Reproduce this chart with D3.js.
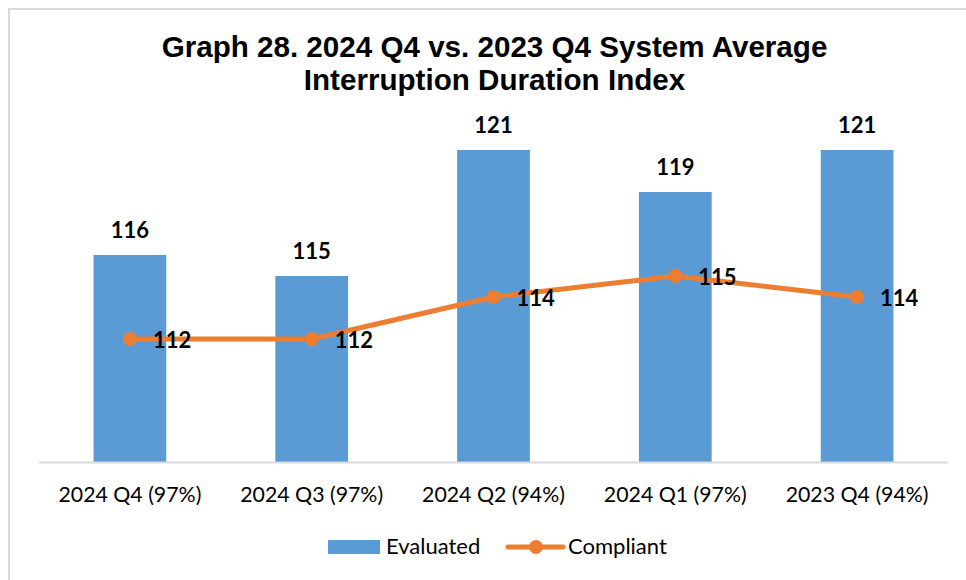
<!DOCTYPE html>
<html>
<head>
<meta charset="utf-8">
<script src="https://cdn.jsdelivr.net/npm/d3@7"></script>
<style>
  html, body { margin: 0; padding: 0; background: #fff; }
  svg { display: block; }
</style>
</head>
<body>
<svg id="chart" width="966" height="580"></svg>
<script>
const categories = ["2024 Q4 (97%)", "2024 Q3 (97%)", "2024 Q2 (94%)", "2024 Q1 (97%)", "2023 Q4 (94%)"];
const evaluated = [116, 115, 121, 119, 121];
const compliant = [112, 112, 114, 115, 114];
const titleLines = ["Graph 28. 2024 Q4 vs. 2023 Q4 System Average", "Interruption Duration Index"];
const seriesNames = ["Evaluated", "Compliant"];

const W = 966, H = 580;
const svg = d3.select("#chart");
const barColor = "#5B9BD5", lineColor = "#ED7D31";
const labelFont = "Lato, 'Open Sans', sans-serif";

// frame
svg.append("rect").attr("x", 9).attr("y", 9).attr("width", W).attr("height", H)
  .attr("fill", "#fff").attr("stroke", "#d9d9d9").attr("stroke-width", 2);

const plotLeft = 39, plotRight = 948, plotBottom = 462;

const x = d3.scaleBand().domain(categories).range([plotLeft, plotRight])
  .paddingInner(0.6).paddingOuter(0.3);
const y = d3.scaleLinear().domain([106, 122]).range([465, 129]);

// title
svg.append("g").selectAll("text").data(titleLines).join("text")
  .attr("x", (plotLeft + plotRight) / 2 + 1)
  .attr("y", (d, i) => 57 + i * 33)
  .attr("text-anchor", "middle")
  .attr("font-family", "'Liberation Sans', Arial, sans-serif")
  .attr("font-weight", "bold")
  .attr("font-size", 29.6)
  .attr("fill", "#000")
  .text(d => d);

// bars
svg.append("g").selectAll("rect").data(evaluated).join("rect")
  .attr("x", (d, i) => x(categories[i]))
  .attr("y", d => y(d))
  .attr("width", x.bandwidth())
  .attr("height", d => plotBottom - y(d))
  .attr("fill", barColor);

// axis
const xAxis = svg.append("g").attr("transform", `translate(0,${plotBottom + 0.5})`)
  .call(d3.axisBottom(x).tickSize(0).tickPadding(39).tickSizeOuter(0));
xAxis.select(".domain").attr("stroke", "#d9d9d9").attr("stroke-width", 2)
  .attr("d", `M${plotLeft},0H${plotRight}`);
xAxis.selectAll("text")
  .attr("font-family", labelFont).attr("font-size", 21.3).attr("fill", "#000")
  .attr("dy", 0);

// bar labels
svg.append("g").selectAll("text").data(evaluated).join("text")
  .attr("x", (d, i) => x(categories[i]) + x.bandwidth() / 2)
  .attr("y", d => y(d) - 17)
  .attr("text-anchor", "middle")
  .attr("font-family", labelFont).attr("font-weight", "bold").attr("font-size", 22)
  .attr("fill", "#000")
  .text(d => d);

// line
const cx = (d, i) => x(categories[i]) + x.bandwidth() / 2;
const line = d3.line().x((d, i) => cx(d, i)).y(d => y(d));
svg.append("path").datum(compliant)
  .attr("d", line).attr("fill", "none")
  .attr("stroke", lineColor).attr("stroke-width", 5).attr("stroke-linejoin", "round");
svg.append("g").selectAll("circle").data(compliant).join("circle")
  .attr("cx", cx).attr("cy", d => y(d)).attr("r", 7).attr("fill", lineColor);
svg.append("g").selectAll("text").data(compliant).join("text")
  .attr("x", (d, i) => cx(d, i) + 23)
  .attr("y", d => y(d) + 9)
  .attr("font-family", labelFont).attr("font-weight", "bold").attr("font-size", 22)
  .attr("fill", "#000")
  .text(d => d);

// legend
const lg = svg.append("g");
lg.append("rect").attr("x", 328).attr("y", 540).attr("width", 52).attr("height", 14).attr("fill", barColor);
lg.append("text").attr("x", 386).attr("y", 554)
  .attr("font-family", labelFont).attr("font-size", 22).attr("fill", "#000").text(seriesNames[0]);
lg.append("line").attr("x1", 508).attr("x2", 563).attr("y1", 547).attr("y2", 547)
  .attr("stroke", lineColor).attr("stroke-width", 5).attr("stroke-linecap", "round");
lg.append("circle").attr("cx", 536).attr("cy", 547).attr("r", 7).attr("fill", lineColor);
lg.append("text").attr("x", 568).attr("y", 554)
  .attr("font-family", labelFont).attr("font-size", 22).attr("fill", "#000").text(seriesNames[1]);
</script>
</body>
</html>
